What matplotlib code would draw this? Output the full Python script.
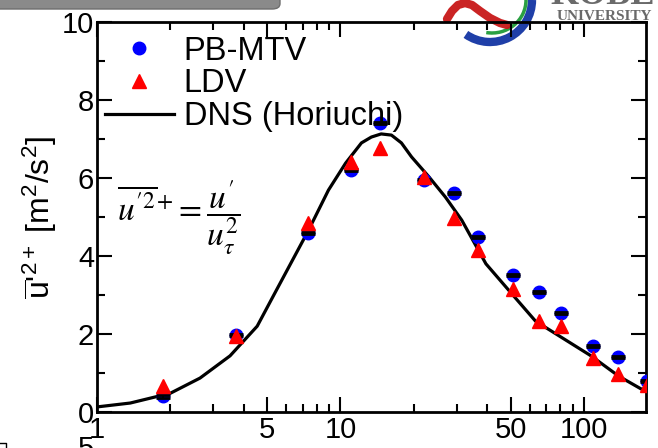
import numpy as np
import matplotlib
matplotlib.use("Agg")
import matplotlib.pyplot as plt
from matplotlib.patches import FancyBboxPatch, Arc
from matplotlib.ticker import FixedLocator, NullFormatter, FixedFormatter

# PB-MTV measurements
mtv_y_plus = [1.87, 3.73, 7.38, 11.0, 14.6, 22.0, 29.2, 36.6, 51.0, 65.3, 80.4, 109, 138, 182]
mtv_u2 = [0.40, 1.97, 4.59, 6.20, 7.41, 5.95, 5.62, 4.49, 3.51, 3.08, 2.54, 1.69, 1.41, 0.80]
mtv_err = [0.03] * len(mtv_u2)

# LDV measurements
ldv_y_plus = [1.87, 3.73, 7.38, 11.0, 14.6, 22.0, 29.2, 36.6, 51.0, 65.3, 80.4, 109, 138, 182]
ldv_u2 = [0.67, 1.95, 4.85, 6.41, 6.78, 6.03, 4.97, 4.15, 3.15, 2.33, 2.20, 1.38, 0.97, 0.69]

# DNS profile (Horiuchi)
dns_y_plus = [1.0, 1.37, 2.0, 2.65, 3.52, 4.55, 5.4, 7.38, 8.93, 10.5, 12.2, 13.4,
              14.7, 16.2, 17.8, 19.6, 23.1, 27.0, 31.5, 39.6, 50.6, 63.3, 76.9, 107,
              139, 172, 182]
dns_u2 = [0.13, 0.23, 0.48, 0.87, 1.44, 2.20, 3.07, 4.65, 5.69, 6.38, 6.90, 7.05,
          7.13, 7.10, 6.90, 6.54, 6.03, 5.51, 4.92, 3.80, 3.03, 2.33, 2.00, 1.44,
          0.92, 0.59, 0.59]

x_ticks = [1, 5, 10, 50, 100]
x_tick_labels = ["1", "5", "10", "50", "100"]
y_ticks = [0, 2, 4, 6, 8, 10]

plt.rcParams["font.family"] = ["Liberation Sans", "DejaVu Sans"]
plt.rcParams["mathtext.fontset"] = "custom"
plt.rcParams["mathtext.rm"] = "Liberation Sans"
plt.rcParams["mathtext.it"] = "Liberation Sans"

W, H = 658, 448
fig = plt.figure(figsize=(W / 100, H / 100), dpi=100)

def fx(px):
    return px / W

def fy(py):
    return 1 - py / H

# header bar across the top-left corner
bar = FancyBboxPatch((fx(-20), fy(9)), fx(300), fy(0) - fy(9) + 0.02,
                     boxstyle="round,pad=0,rounding_size=0.012",
                     transform=fig.transFigure, facecolor="#8a8a8a",
                     edgecolor="#6e6e6e", lw=1.0, zorder=0)
fig.patches.append(bar)

# university emblem, top right
lax = fig.add_axes([fx(440), fy(48), fx(218), fy(0) - fy(48)], zorder=0)
lax.set_xlim(440, 658)
lax.set_ylim(48, 0)
lax.axis("off")
lax.add_patch(Arc((490, 0), 84, 84, theta1=0, theta2=125, lw=6, color="#1f3fa8"))
lax.add_patch(Arc((492, 0), 68, 66, theta1=0, theta2=100, lw=2.5, color="#2aa042"))
sw_x = [447, 452, 458, 465, 472, 480, 490, 500, 507]
sw_y = [19, 11, 5, 3, 5, 11, 18, 23, 25]
lax.plot(sw_x, sw_y, color="#c81818", lw=6, solid_capstyle="round", alpha=0.95)
lax.text(652, 17, "UNIVERSITY", ha="right", va="center", fontsize=11,
         family="Liberation Serif", weight="bold", color="#6a6a6a")
lax.text(655, -4, "KOBE", ha="right", va="center", fontsize=26,
         family="Liberation Serif", weight="bold", color="#6a6a6a")

# stray text cut at bottom-left edge
fig.text(fx(86), fy(435), "5", fontsize=21, ha="center", va="top")
fig.add_artist(plt.Line2D([fx(0), fx(6), fx(6)], [fy(443), fy(443), fy(450)],
                          transform=fig.transFigure, color="black", lw=1))

ax = fig.add_axes([fx(97), fy(412), fx(646) - fx(97), fy(22) - fy(412)], zorder=2)
ax.patch.set_alpha(0)

ax.plot(dns_y_plus, dns_u2, color="black", lw=2.3, label="DNS (Horiuchi)", zorder=2)
ax.plot(mtv_y_plus, mtv_u2, "o", color="#0000ff", ms=9, label="PB-MTV", zorder=3)
ax.errorbar(mtv_y_plus, mtv_u2, yerr=mtv_err, fmt="none", ecolor="black",
            elinewidth=1.5, capsize=5, capthick=2, zorder=3.5)
ax.plot(ldv_y_plus, ldv_u2, "^", color="#ff0000", ms=10, label="LDV", zorder=4)

ax.set_xscale("log")
ax.set_xlim(1, 180)
ax.set_ylim(0, 10)

ax.xaxis.set_major_locator(FixedLocator(x_ticks))
ax.xaxis.set_major_formatter(FixedFormatter(x_tick_labels))
minor_x = [v for d in (1, 10, 100) for v in np.arange(2, 10) * d if 1 < v < 180 and v not in x_ticks]
ax.xaxis.set_minor_locator(FixedLocator(minor_x))
ax.xaxis.set_minor_formatter(NullFormatter())
ax.set_yticks(y_ticks)
ax.yaxis.set_minor_locator(FixedLocator([1, 3, 5, 7, 9]))

ax.tick_params(which="both", direction="in", top=True, right=True, width=1.5,
               labelsize=21, colors="black")
ax.tick_params(which="major", length=11)
ax.tick_params(which="minor", length=6)
ax.tick_params(axis="x", pad=3)
ax.tick_params(axis="y", pad=2)
for s in ax.spines.values():
    s.set_linewidth(2)

ax.set_ylabel(r"$\overline{\mathrm{u}}$'$^{2+}$ [m$^2$/s$^2$]", fontsize=23, labelpad=2)

handles, labels = ax.get_legend_handles_labels()
order = [labels.index(n) for n in ("PB-MTV", "LDV", "DNS (Horiuchi)")]
ax.legend([handles[i] for i in order], [labels[i] for i in order],
          loc="upper left", bbox_to_anchor=(-0.01, 1.0), frameon=False,
          fontsize=23.5, handlelength=2.1, handletextpad=0.3, labelspacing=0.05,
          borderaxespad=0.32, borderpad=0.1)

fig.text(fx(117), fy(218),
         r"$\overline{u^{\prime 2}}^{+} = \dfrac{u^{\prime}}{u_{\tau}^{2}}$",
         fontsize=24, math_fontfamily="stix", va="center", ha="left")

fig.savefig("out.png", dpi=100)
